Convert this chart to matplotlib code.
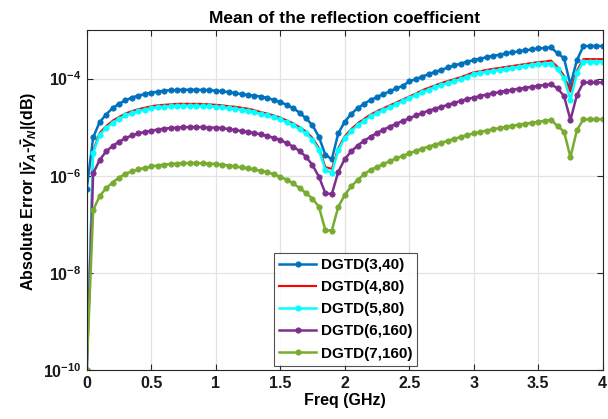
import numpy as np
import matplotlib
matplotlib.use('Agg')
import matplotlib.pyplot as plt

# fonts: bold Arial-like look everywhere
plt.rcParams['font.family'] = ['Liberation Sans', 'DejaVu Sans']
plt.rcParams['font.weight'] = 'bold'
plt.rcParams['mathtext.fontset'] = 'custom'
plt.rcParams['mathtext.rm'] = 'Liberation Sans:bold'
plt.rcParams['mathtext.it'] = 'Liberation Sans:italic:bold'
plt.rcParams['mathtext.bf'] = 'Liberation Sans:bold'

# frequency samples (GHz), 0.05 GHz step
freq = np.linspace(0, 4, 81)

# log10 of absolute error
err_3_40 = [-6.28, -5.21, -4.90, -4.74, -4.61, -4.52, -4.45, -4.39, -4.35, -4.32,
            -4.29, -4.27, -4.25, -4.24, -4.235, -4.23, -4.23, -4.23, -4.235, -4.24,
            -4.25, -4.26, -4.28, -4.30, -4.32, -4.34, -4.35, -4.37, -4.40, -4.44,
            -4.48, -4.54, -4.61, -4.70, -4.82, -4.96, -5.20, -5.57, -5.66, -5.13,
            -4.89, -4.73, -4.61, -4.52, -4.44, -4.38, -4.32, -4.26, -4.20, -4.15,
            -4.06, -4.01, -3.96, -3.91, -3.86, -3.82, -3.77, -3.73, -3.69, -3.65,
            -3.62, -3.59, -3.56, -3.53, -3.51, -3.48, -3.46, -3.44, -3.42, -3.40,
            -3.38, -3.37, -3.36, -3.48, -3.58, -4.13, -3.62, -3.33, -3.33, -3.33,
            -3.33]

err_4_80 = [-10.0, -5.49, -5.12, -4.98, -4.87, -4.79, -4.72, -4.67, -4.63, -4.60,
            -4.57, -4.55, -4.54, -4.53, -4.52, -4.52, -4.52, -4.52, -4.525, -4.53,
            -4.54, -4.55, -4.57, -4.58, -4.60, -4.62, -4.65, -4.69, -4.72, -4.76,
            -4.80, -4.86, -4.92, -5.00, -5.09, -5.22, -5.43, -5.82, -5.86, -5.43,
            -5.19, -5.04, -4.92, -4.83, -4.74, -4.67, -4.61, -4.55, -4.49, -4.43,
            -4.37, -4.31, -4.24, -4.19, -4.14, -4.09, -4.05, -4.01, -3.97, -3.92,
            -3.87, -3.85, -3.82, -3.80, -3.78, -3.76, -3.74, -3.72, -3.70, -3.68,
            -3.66, -3.65, -3.63, -3.76, -3.94, -4.27, -3.84, -3.60, -3.60, -3.60,
            -3.60]

err_5_80 = [-10.0, -5.53, -5.16, -5.02, -4.91, -4.83, -4.76, -4.71, -4.67, -4.64,
            -4.61, -4.59, -4.58, -4.57, -4.56, -4.56, -4.56, -4.56, -4.565, -4.57,
            -4.58, -4.59, -4.61, -4.62, -4.64, -4.66, -4.69, -4.73, -4.76, -4.80,
            -4.84, -4.90, -4.96, -5.04, -5.13, -5.26, -5.47, -5.88, -5.94, -5.47,
            -5.23, -5.08, -4.96, -4.87, -4.78, -4.71, -4.65, -4.59, -4.53, -4.46,
            -4.40, -4.34, -4.28, -4.23, -4.18, -4.13, -4.09, -4.05, -4.01, -3.96,
            -3.91, -3.89, -3.86, -3.84, -3.82, -3.80, -3.78, -3.76, -3.74, -3.72,
            -3.71, -3.70, -3.69, -3.81, -3.99, -4.44, -3.89, -3.65, -3.65, -3.65,
            -3.65]

err_6_160 = [-10.0, -5.95, -5.68, -5.50, -5.39, -5.30, -5.23, -5.17, -5.13, -5.10,
             -5.07, -5.05, -5.03, -5.02, -5.01, -5.00, -5.00, -5.00, -5.00, -5.01,
             -5.01, -5.02, -5.04, -5.06, -5.08, -5.10, -5.12, -5.15, -5.18, -5.22,
             -5.26, -5.33, -5.40, -5.49, -5.61, -5.78, -6.02, -6.36, -6.38, -5.92,
             -5.66, -5.50, -5.38, -5.28, -5.20, -5.12, -5.05, -4.99, -4.93, -4.87,
             -4.82, -4.76, -4.71, -4.66, -4.62, -4.58, -4.54, -4.50, -4.46, -4.42,
             -4.39, -4.36, -4.33, -4.30, -4.28, -4.25, -4.23, -4.21, -4.19, -4.17,
             -4.15, -4.13, -4.12, -4.20, -4.36, -4.85, -4.34, -4.08, -4.08, -4.08,
             -4.08]

err_7_160 = [-10.0, -6.71, -6.42, -6.26, -6.14, -6.04, -5.96, -5.91, -5.87, -5.84,
             -5.81, -5.79, -5.77, -5.76, -5.75, -5.74, -5.74, -5.74, -5.745, -5.75,
             -5.76, -5.77, -5.79, -5.81, -5.83, -5.85, -5.87, -5.90, -5.93, -5.97,
             -6.02, -6.08, -6.16, -6.25, -6.36, -6.47, -6.64, -7.12, -7.13, -6.64,
             -6.40, -6.22, -6.09, -5.97, -5.88, -5.82, -5.76, -5.70, -5.64, -5.59,
             -5.54, -5.49, -5.44, -5.40, -5.36, -5.32, -5.28, -5.24, -5.20, -5.16,
             -5.13, -5.10, -5.07, -5.04, -5.02, -4.99, -4.97, -4.95, -4.93, -4.91,
             -4.89, -4.87, -4.85, -4.98, -5.09, -5.62, -5.06, -4.84, -4.84, -4.84,
             -4.84]

labels = ['DGTD(3,40)', 'DGTD(4,80)', 'DGTD(5,80)', 'DGTD(6,160)', 'DGTD(7,160)']
colors = ['#0072BD', '#FF0000', '#00FFFF', '#7E2F8E', '#77AC30']
series = [err_3_40, err_4_80, err_5_80, err_6_160, err_7_160]

fig = plt.figure(figsize=(6.08, 4.19), dpi=100)
ax = fig.add_axes([0.1426, 0.1169, 0.8487, 0.8115])

for vals, lab, col in zip(series, labels, colors):
    y = 10.0 ** np.array(vals)
    if lab == 'DGTD(4,80)':
        ax.plot(freq, y, color=col, lw=1.5, label=lab)
    else:
        ax.plot(freq, y, color=col, lw=1.8, marker='o', ms=3.8,
                markeredgewidth=0.6, label=lab)

ax.set_yscale('log')
ax.set_xlim(0, 4)
ax.set_ylim(1e-10, 1e-3)
ax.set_xticks(np.arange(0, 4.01, 0.5))
ax.set_xticklabels(['0', '0.5', '1', '1.5', '2', '2.5', '3', '3.5', '4'])
ax.set_yticks([1e-10, 1e-8, 1e-6, 1e-4])
ax.set_yticklabels([r'$10^{-10}$', r'$10^{-8}$', r'$10^{-6}$', r'$10^{-4}$'])
ax.minorticks_off()
ax.tick_params(direction='in', length=4, width=0.8, labelsize=11.5,
               top=True, right=True, colors='#262626', pad=4)
for lab in ax.get_xticklabels() + ax.get_yticklabels():
    lab.set_color('#1a1a1a')
ax.grid(True, color='#e3e3e3', lw=0.9)
ax.set_axisbelow(True)
for s in ax.spines.values():
    s.set_color('#262626')
    s.set_linewidth(0.8)

ax.set_title('Mean of the reflection coefficient', fontsize=12.5,
             fontweight='bold', pad=5)
ax.set_xlabel('Freq (GHz)', fontsize=11.5, fontweight='bold', labelpad=2)
ax.set_ylabel(r'Absolute Error |$\bar{\gamma}_{A}$-$\bar{\gamma}_{N}$|(dB)',
              fontsize=11.5, fontweight='bold')
ax.yaxis.set_label_coords(-0.092, 0.525)

leg = ax.legend(loc='lower left', bbox_to_anchor=(0.363, 0.012), fontsize=11,
                frameon=True, fancybox=False, edgecolor='#262626',
                handlelength=2.4, handletextpad=0.3, labelspacing=0.53,
                borderpad=0.35, borderaxespad=0)
leg.get_frame().set_linewidth(0.8)
for t in leg.get_texts():
    t.set_fontweight('bold')

fig.savefig('out.png', dpi=100)
